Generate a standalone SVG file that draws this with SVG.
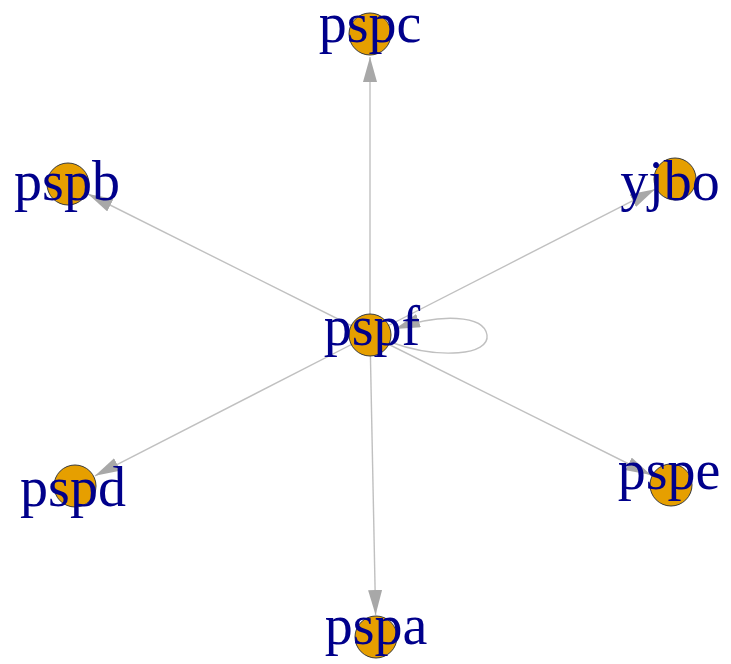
<svg xmlns="http://www.w3.org/2000/svg" width="731" height="664" viewBox="0 0 731 664">
<style>
.edge{stroke:#c0c0c0;stroke-width:1.4;fill:none}
.node{fill:#E69F00;stroke:#3a3a3a;stroke-width:1}
.label{font-family:"Liberation Serif","Times New Roman",serif;font-size:56px;fill:#00008B;text-anchor:middle}
</style>
<defs>
<marker id="arr" viewBox="0 0 25 14" refX="25" refY="7" markerWidth="25" markerHeight="14" markerUnits="userSpaceOnUse" orient="auto">
<path d="M0,0 L25,7 L0,14 z" fill="#a8a8a8"/>
</marker>
</defs>
<rect width="731" height="664" fill="#ffffff"/>
<g id="edges">
<line class="edge" x1="370" y1="335" x2="370" y2="57" marker-end="url(#arr)"/>
<line class="edge" x1="370" y1="335" x2="375.6" y2="615" marker-end="url(#arr)"/>
<line class="edge" x1="370" y1="335" x2="88" y2="194" marker-end="url(#arr)"/>
<line class="edge" x1="370" y1="335" x2="655" y2="189.3" marker-end="url(#arr)"/>
<line class="edge" x1="370" y1="335" x2="651" y2="475" marker-end="url(#arr)"/>
<line class="edge" x1="370" y1="335" x2="95" y2="475.8" marker-end="url(#arr)"/>
<path class="edge" d="M390,342 C440,360 490,355 487,335 C484,315 440,313 395,329" marker-end="url(#arr)"/>
</g>
<g id="pspf"><circle class="node" cx="370" cy="335" r="21"/><text class="label" x="372" y="345">pspf</text></g>
<g id="pspc"><circle class="node" cx="370" cy="34" r="21"/><text class="label" x="370" y="42">pspc</text></g>
<g id="pspb"><circle class="node" cx="68" cy="184" r="21"/><text class="label" x="67" y="200">pspb</text></g>
<g id="yjbo"><circle class="node" cx="675" cy="179" r="21"/><text class="label" x="670" y="200">yjbo</text></g>
<g id="pspe"><circle class="node" cx="671" cy="485" r="21"/><text class="label" x="669" y="489">pspe</text></g>
<g id="pspa"><circle class="node" cx="376" cy="637" r="21"/><text class="label" x="376" y="644">pspa</text></g>
<g id="pspd"><circle class="node" cx="75" cy="486" r="21"/><text class="label" x="73" y="506">pspd</text></g>
</svg>
